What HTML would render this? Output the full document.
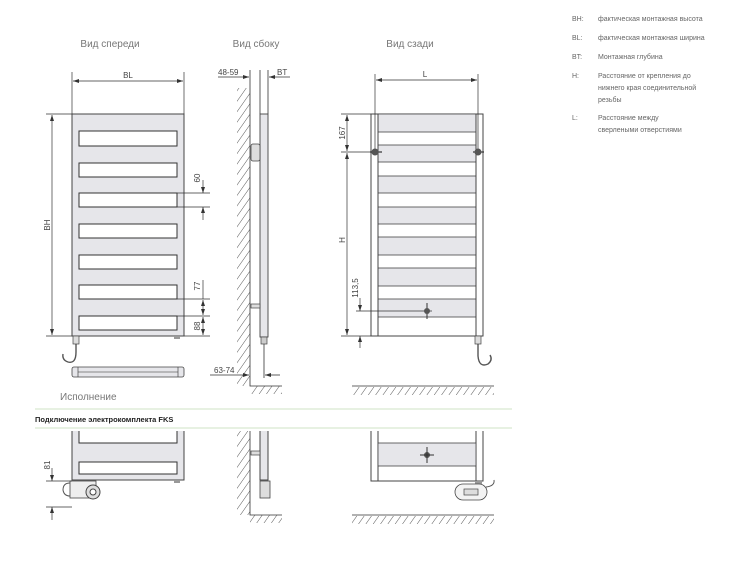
<!DOCTYPE html>
<html><head><meta charset="utf-8"><style>
body{margin:0;background:#fff;}
svg{display:block;font-family:"Liberation Sans",sans-serif;}
.t{fill:#777;font-size:10px;}
.d{fill:#444;font-size:8px;}
.l{fill:#666;font-size:7px;}
</style></head><body>
<svg width="750" height="563" viewBox="0 0 750 563" xmlns="http://www.w3.org/2000/svg">
<defs>
<pattern id="h" width="6" height="6" patternUnits="userSpaceOnUse" patternTransform="rotate(35)">
<line x1="0" y1="0" x2="0" y2="6" stroke="#444" stroke-width="0.9"/></pattern>
<marker id="a" markerWidth="6" markerHeight="6" refX="6" refY="3" orient="auto-start-reverse" markerUnits="userSpaceOnUse"><path d="M0,1 L6,3 L0,5z" fill="#333"/></marker>
</defs>
<text class="t" x="110" y="47" text-anchor="middle">Вид спереди</text>
<text class="t" x="256" y="47" text-anchor="middle">Вид сбоку</text>
<text class="t" x="410" y="47" text-anchor="middle">Вид сзади</text>

<!-- FRONT VIEW -->
<rect x="72" y="114" width="112" height="222" fill="#e6e6ea" stroke="#444" stroke-width="1"/>
<g fill="#fff" stroke="#333" stroke-width="1">
<rect x="79" y="131" width="98" height="15"/><rect x="79" y="163" width="98" height="14"/>
<rect x="79" y="193" width="98" height="14"/><rect x="79" y="224" width="98" height="14"/>
<rect x="79" y="255" width="98" height="14"/><rect x="79" y="285" width="98" height="14"/>
<rect x="79" y="316" width="98" height="14"/></g>
<g stroke="#333" stroke-width="0.7" fill="none">
<line x1="72" y1="72" x2="72" y2="114"/><line x1="184" y1="72" x2="184" y2="114"/>
<line x1="73" y1="81" x2="183" y2="81" marker-start="url(#a)" marker-end="url(#a)"/>
<line x1="46" y1="114" x2="72" y2="114"/><line x1="46" y1="336" x2="72" y2="336"/>
<line x1="52" y1="115" x2="52" y2="335" marker-start="url(#a)" marker-end="url(#a)"/>
<line x1="177" y1="193" x2="210" y2="193"/><line x1="177" y1="207" x2="210" y2="207"/>
<line x1="203" y1="180" x2="203" y2="193" marker-end="url(#a)"/><line x1="203" y1="220" x2="203" y2="207" marker-end="url(#a)"/>
<line x1="177" y1="299" x2="210" y2="299"/><line x1="177" y1="316" x2="210" y2="316"/><line x1="184" y1="336" x2="210" y2="336"/>
<line x1="203" y1="300" x2="203" y2="315" marker-start="url(#a)" marker-end="url(#a)"/>
<line x1="203" y1="317" x2="203" y2="335" marker-start="url(#a)" marker-end="url(#a)"/>
<line x1="203" y1="280" x2="203" y2="299"/>
<path d="M76,344 L76,352 Q76,364 68,362 Q62,360 63,354" stroke="#555" stroke-width="1.4"/>
</g>
<rect x="73" y="336" width="6" height="8" fill="#ddd" stroke="#444" stroke-width="0.7"/>
<rect x="174" y="336" width="6" height="3" fill="#999"/>
<text class="d" x="128" y="78" text-anchor="middle">BL</text>
<text class="d" transform="translate(50,225) rotate(-90)" text-anchor="middle">BH</text>
<text class="d" transform="translate(200,178) rotate(-90)" text-anchor="middle">60</text>
<text class="d" transform="translate(200,286) rotate(-90)" text-anchor="middle">77</text>
<text class="d" transform="translate(200,326) rotate(-90)" text-anchor="middle">88</text>
<rect x="72" y="367" width="112" height="10" rx="2" fill="#e6e6ea" stroke="#444" stroke-width="0.8"/>
<line x1="78" y1="372" x2="178" y2="372" stroke="#888"/>
<line x1="78" y1="367" x2="78" y2="377" stroke="#444" stroke-width="0.7"/><line x1="178" y1="367" x2="178" y2="377" stroke="#444" stroke-width="0.7"/>

<!-- SIDE VIEW -->
<rect x="237" y="88" width="13" height="298" fill="url(#h)"/>
<rect x="250" y="386" width="32" height="8" fill="url(#h)"/>
<g stroke="#333" stroke-width="0.8" fill="none">
<path d="M250,88 L250,386 L282,386"/>
<line x1="250" y1="70" x2="250" y2="88"/><line x1="260" y1="70" x2="260" y2="114"/><line x1="268" y1="70" x2="268" y2="114"/>
<line x1="218" y1="77" x2="249" y2="77" marker-end="url(#a)"/><line x1="290" y1="77" x2="269" y2="77" marker-end="url(#a)"/>
<line x1="210" y1="375" x2="249" y2="375" marker-end="url(#a)"/><line x1="280" y1="375" x2="265" y2="375" marker-end="url(#a)"/>
<line x1="264" y1="337" x2="264" y2="378"/>
</g>
<rect x="260" y="114" width="8" height="223" fill="#e6e6ea" stroke="#444" stroke-width="0.9"/>
<rect x="251" y="144" width="9" height="17" rx="2" fill="#ddd" stroke="#444" stroke-width="0.8"/>
<rect x="251" y="304" width="9" height="4" fill="#ddd" stroke="#444" stroke-width="0.7"/>
<rect x="261" y="337" width="6" height="7" fill="#ccc" stroke="#444" stroke-width="0.7"/>
<text class="d" x="218" y="75">48-59</text><text class="d" x="277" y="75">BT</text>
<text class="d" x="214" y="373">63-74</text>

<!-- BACK VIEW -->
<rect x="371" y="114" width="112" height="222" fill="#fff" stroke="#444" stroke-width="1"/>
<g fill="#e6e6ea" stroke="#444" stroke-width="0.8">
<rect x="378" y="114" width="98" height="18"/><rect x="378" y="145" width="98" height="17"/>
<rect x="378" y="176" width="98" height="17"/><rect x="378" y="207" width="98" height="17"/>
<rect x="378" y="237" width="98" height="18"/><rect x="378" y="268" width="98" height="18"/>
<rect x="378" y="299" width="98" height="18"/></g>
<line x1="378" y1="114" x2="378" y2="336" stroke="#444"/><line x1="476" y1="114" x2="476" y2="336" stroke="#444"/>
<g stroke="#333" stroke-width="0.7" fill="none">
<line x1="375" y1="74" x2="375" y2="152"/><line x1="478" y1="74" x2="478" y2="152"/>
<line x1="376" y1="80" x2="477" y2="80" marker-start="url(#a)" marker-end="url(#a)"/>
<line x1="341" y1="114" x2="371" y2="114"/><line x1="341" y1="152" x2="380" y2="152"/><line x1="341" y1="336" x2="371" y2="336"/>
<line x1="347" y1="115" x2="347" y2="151" marker-start="url(#a)" marker-end="url(#a)"/>
<line x1="347" y1="153" x2="347" y2="335" marker-start="url(#a)" marker-end="url(#a)"/>
<line x1="356" y1="311" x2="432" y2="311"/>
<line x1="360" y1="298" x2="360" y2="311" marker-end="url(#a)"/><line x1="360" y1="348" x2="360" y2="336" marker-end="url(#a)"/>
<line x1="370" y1="152" x2="382" y2="152" stroke-width="1.2"/><line x1="473" y1="152" x2="484" y2="152" stroke-width="1.2"/>
<line x1="427" y1="303" x2="427" y2="319" stroke-width="1"/>
<path d="M478,344 L478,356 Q479,368 488,364 Q493,360 490,355" stroke="#555" stroke-width="1.4"/>
</g>
<circle cx="375" cy="152" r="3.5" fill="#555"/><circle cx="478" cy="152" r="3.5" fill="#555"/>
<circle cx="427" cy="311" r="3" fill="#555"/>
<rect x="475" y="336" width="6" height="8" fill="#ddd" stroke="#444" stroke-width="0.7"/>
<text class="d" x="425" y="77" text-anchor="middle">L</text>
<text class="d" transform="translate(345,133) rotate(-90)" text-anchor="middle">167</text>
<text class="d" transform="translate(345,240) rotate(-90)" text-anchor="middle">H</text>
<text class="d" transform="translate(358,288) rotate(-90)" text-anchor="middle">113,5</text>
<rect x="352" y="387" width="142" height="8" fill="url(#h)"/>
<line x1="352" y1="386" x2="494" y2="386" stroke="#333" stroke-width="0.8"/>

<!-- LEGEND -->
<g class="l">
<text x="572" y="21">BH:</text><text x="598" y="21">фактическая монтажная высота</text>
<text x="572" y="40">BL:</text><text x="598" y="40">фактическая монтажная ширина</text>
<text x="572" y="59">BT:</text><text x="598" y="59">Монтажная глубина</text>
<text x="572" y="78">H:</text><text x="598" y="78">Расстояние от крепления до</text>
<text x="598" y="90">нижнего края соединительной</text><text x="598" y="102">резьбы</text>
<text x="572" y="120">L:</text><text x="598" y="120">Расстояние между</text>
<text x="598" y="132">сверлеными отверстиями</text>
</g>

<!-- LOWER SECTION -->
<text class="t" x="60" y="400">Исполнение</text>
<line x1="35" y1="409" x2="512" y2="409" stroke="#cfe3c4" stroke-width="1"/>
<text x="35" y="422" style="font-size:7.5px;font-weight:bold;fill:#222">Подключение электрокомплекта FKS</text>
<line x1="35" y1="428" x2="512" y2="428" stroke="#cfe3c4" stroke-width="1"/>

<path d="M72,431 L72,480 L184,480 L184,431" fill="#e6e6ea" stroke="#444"/>
<path d="M79,431 L79,443 L177,443 L177,431" fill="#fff" stroke="#333"/>
<rect x="79" y="462" width="98" height="12" fill="#fff" stroke="#333"/>
<rect x="70" y="481" width="26" height="17" fill="#eee" stroke="#444" stroke-width="0.8"/>
<circle cx="93" cy="492" r="7" fill="#ddd" stroke="#444"/><circle cx="93" cy="492" r="3" fill="#fff" stroke="#444"/>
<path d="M70,483 Q63,483 63,490 Q64,496 70,496" fill="none" stroke="#555"/>
<rect x="174" y="480" width="6" height="3" fill="#999"/>
<g stroke="#333" stroke-width="0.7">
<line x1="46" y1="481" x2="72" y2="481"/><line x1="46" y1="507" x2="72" y2="507"/>
<line x1="52" y1="468" x2="52" y2="481" marker-end="url(#a)"/><line x1="52" y1="520" x2="52" y2="507" marker-end="url(#a)"/>
</g>
<text class="d" transform="translate(50,465) rotate(-90)" text-anchor="middle">81</text>

<rect x="237" y="431" width="13" height="84" fill="url(#h)"/>
<rect x="250" y="515" width="32" height="8" fill="url(#h)"/>
<path d="M250,431 L250,515 L282,515" fill="none" stroke="#333" stroke-width="0.8"/>
<path d="M260,431 L260,480 L268,480 L268,431" fill="#e6e6ea" stroke="#444"/>
<rect x="251" y="451" width="9" height="4" fill="#ddd" stroke="#444" stroke-width="0.7"/>
<rect x="260" y="481" width="10" height="17" fill="#ddd" stroke="#444" stroke-width="0.8"/>

<path d="M371,431 L371,481 L483,481 L483,431" fill="#fff" stroke="#444"/>
<line x1="378" y1="431" x2="378" y2="481" stroke="#444"/><line x1="476" y1="431" x2="476" y2="481" stroke="#444"/>
<rect x="378" y="443" width="98" height="23" fill="#e6e6ea" stroke="#444" stroke-width="0.8"/>
<circle cx="427" cy="455" r="3" fill="#555"/><line x1="420" y1="455" x2="434" y2="455" stroke="#333"/><line x1="427" y1="447" x2="427" y2="463" stroke="#333"/>
<rect x="475" y="481" width="7" height="4" fill="#999"/>
<rect x="455" y="484" width="32" height="16" rx="8" fill="#f3f3f3" stroke="#444" stroke-width="0.8"/>
<rect x="464" y="489" width="14" height="6" fill="#ddd" stroke="#444" stroke-width="0.7"/>
<path d="M486,487 Q495,486 494,480" fill="none" stroke="#555"/>
<rect x="352" y="516" width="142" height="8" fill="url(#h)"/>
<line x1="352" y1="515" x2="494" y2="515" stroke="#333" stroke-width="0.8"/>
</svg>
</body></html>
